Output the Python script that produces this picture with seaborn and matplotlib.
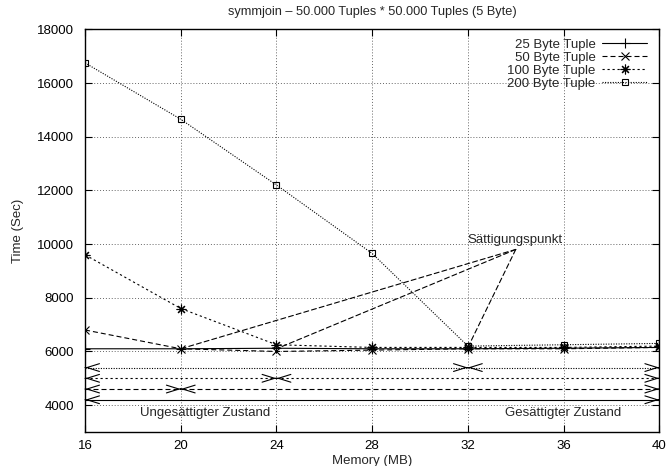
import matplotlib
matplotlib.use("Agg")
import matplotlib.pyplot as plt
import seaborn as sns
import pandas as pd

# ---- data ----
memory_mb = [16, 20, 24, 28, 32, 36, 40]
tuple_25 = [6100, 6100, 6120, 6100, 6100, 6120, 6150]
tuple_50 = [6800, 6100, 6000, 6050, 6100, 6100, 6150]
tuple_100 = [9600, 7600, 6250, 6150, 6150, 6150, 6200]
tuple_200 = [16750, 14650, 12200, 9650, 6200, 6250, 6300]
series_labels = ["25 Byte Tuple", "50 Byte Tuple", "100 Byte Tuple", "200 Byte Tuple"]

# saturation points (memory where each series becomes saturated) and arrow heights
saturation_x = [16, 20, 24, 32]
range_arrow_y = [4200, 4600, 5000, 5400]
sat_label_pos = (32, 10150)
sat_arrow_start = (34, 9800)
sat_arrow_targets = [(20, 6100), (24, 6100), (32, 6150)]

title = "symmjoin \u2013 50.000 Tuples * 50.000 Tuples (5 Byte)"
xlabel = "Memory (MB)"
ylabel = "Time (Sec)"
xticks = [16, 20, 24, 28, 32, 36, 40]
yticks = [4000, 6000, 8000, 10000, 12000, 14000, 16000, 18000]

sns.set_style("ticks")
plt.rcParams["font.family"] = ["Liberation Sans", "DejaVu Sans"]

fig = plt.figure(figsize=(6.7, 4.66), dpi=100)
ax = fig.add_axes([0.127, 0.073, 0.857, 0.864])

df = pd.DataFrame({
    "memory": memory_mb * 4,
    "time": tuple_25 + tuple_50 + tuple_100 + tuple_200,
    "series": sum([[s] * len(memory_mb) for s in series_labels], []),
})

styles = {
    "25 Byte Tuple": dict(linestyle="-", marker="+", markersize=7, markerfacecolor="black"),
    "50 Byte Tuple": dict(linestyle=(0, (4.5, 2.7)), marker="x", markersize=6, markerfacecolor="black"),
    "100 Byte Tuple": dict(linestyle=(0, (2, 2.5)), marker=(8, 2, 0), markersize=7, markerfacecolor="black"),
    "200 Byte Tuple": dict(linestyle=(0, (1, 1.3)), marker="s", markersize=5, markerfacecolor="none"),
}
line_styles_by_series = {s: styles[s]["linestyle"] for s in series_labels}

for s in series_labels:
    sub = df[df["series"] == s]
    sns.lineplot(data=sub, x="memory", y="time", ax=ax, color="black", lw=0.8,
                 markeredgecolor="black", markeredgewidth=0.8, label=s,
                 estimator=None, sort=False, **styles[s])

ax.set_xlim(16, 40)
ax.set_ylim(3000, 18000)
ax.set_xticks(xticks)
ax.set_yticks(yticks)
ax.grid(True, linestyle=(0, (1, 2)), color="0.4", linewidth=0.7)
ax.tick_params(direction="in", length=5, width=0.8, top=True, right=True,
               labelsize=9.5, colors="black")
ax.tick_params(axis="x", pad=6)
ax.tick_params(axis="y", pad=8)
for sp in ax.spines.values():
    sp.set_linewidth(1.0)
    sp.set_color("black")

ax.set_title(title, fontsize=9.2, pad=10)
ax.set_xlabel(xlabel, fontsize=9.5, labelpad=2)
ax.set_ylabel(ylabel, fontsize=9.5, labelpad=9)

# range arrows (unsaturated / saturated): styled shaft + solid open heads
head = dict(arrowstyle="->,head_length=0.9,head_width=0.28", color="black", lw=0.8,
            shrinkA=0, shrinkB=0, mutation_scale=10)
for s, xs, y in zip(series_labels, saturation_x, range_arrow_y):
    ls = line_styles_by_series[s]
    segs = [(16, 40)] if xs == 16 else [(16, xs), (xs, 40)]
    for a, b in segs:
        ax.plot([a, b], [y, y], color="black", lw=0.8, linestyle=ls)
        ax.annotate("", xy=(a, y), xytext=(a + 0.01, y), arrowprops=head)
        ax.annotate("", xy=(b, y), xytext=(b - 0.01, y), arrowprops=head)

ax.text(21, 3700, "Unges\u00e4ttigter Zustand", ha="center", va="center", fontsize=9.5)
ax.text(36, 3700, "Ges\u00e4ttigter Zustand", ha="center", va="center", fontsize=9.5)

# Sättigungspunkt arrows
ax.text(sat_label_pos[0], sat_label_pos[1], "S\u00e4ttigungspunkt", ha="left", va="center", fontsize=9.5)
for tx, ty in sat_arrow_targets:
    ax.annotate("", xy=(tx, ty), xytext=sat_arrow_start,
                arrowprops=dict(arrowstyle="-", color="black", lw=0.8,
                                linestyle=(0, (4.5, 2.7)), shrinkA=0, shrinkB=0))

leg = ax.legend(loc="upper right", frameon=False, markerfirst=False, fontsize=9.5,
                handlelength=3.4, handletextpad=0.5, labelspacing=0.05,
                borderaxespad=0.3, bbox_to_anchor=(0.995, 1.0))

fig.savefig("out.png", dpi=100)
